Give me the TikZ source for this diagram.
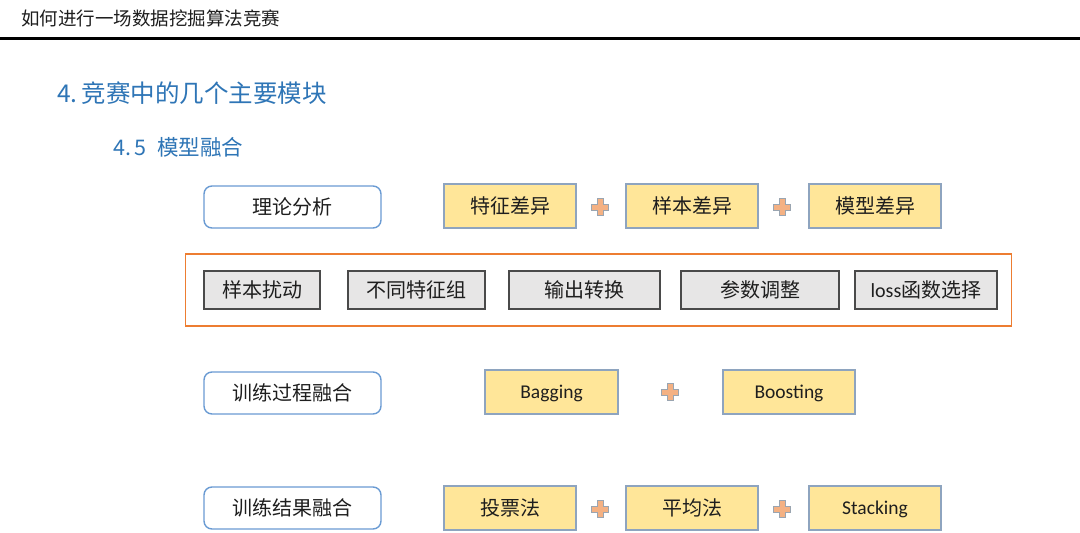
\documentclass[tikz,border=0pt]{standalone}
\usepackage{fontspec}
\setmainfont{Noto Sans CJK SC}
\newfontfamily\latf{Carlito}
\definecolor{titleblue}{HTML}{2E75B6}
\definecolor{rbox}{HTML}{6A9BD3}
\definecolor{yfill}{HTML}{FFE699}
\definecolor{yedge}{HTML}{8EA4BF}
\definecolor{gfill}{HTML}{E7E6E6}
\definecolor{gedge}{HTML}{4A4A4A}
\definecolor{oframe}{HTML}{ED7D31}
\definecolor{pfill}{HTML}{F4B183}
\definecolor{pedge}{HTML}{9AA5B1}
\definecolor{txt}{HTML}{1E1E1E}
\tikzset{
  x=1pt,y=-1pt,
  base/.style={inner sep=0pt, text=txt, font=\fontsize{20}{22}\selectfont},
  rbox/.style={base, draw=rbox, line width=1.4pt, fill=white, rounded corners=8pt, minimum width=177pt, minimum height=42pt},
  ybox/.style={base, draw=yedge, line width=1.4pt, fill=yfill, minimum width=132pt, minimum height=44pt},
  gbox/.style={base, draw=gedge, line width=1.2pt, fill=gfill, minimum height=38pt},
  latin/.style={font=\latf\fontsize{19.5}{21}\selectfont, text height=13pt, text depth=0.5pt},
  plussign/.pic={
    \path[fill=pfill, draw=pedge, line width=0.6pt]
      (-8.5,-2.8) -- (-2.8,-2.8) -- (-2.8,-8.5) -- (2.8,-8.5) -- (2.8,-2.8) -- (8.5,-2.8)
      -- (8.5,2.8) -- (2.8,2.8) -- (2.8,8.5) -- (-2.8,8.5) -- (-2.8,2.8) -- (-8.5,2.8) -- cycle;
  }
}
\begin{document}
\begin{tikzpicture}
\useasboundingbox[fill=white] (0,0) rectangle (1080,533);
% header
\node[anchor=west, inner sep=0pt, text=txt, font=\fontsize{18.5}{20}\selectfont] (hdr) at (21,18) {如何进行一场数据挖掘算法竞赛};
\draw[line width=3pt, black] (0,38) -- (1080,38);
\node[anchor=west, inner sep=0pt, text=titleblue, font=\fontsize{24.5}{26}\selectfont] (t1) at (57,93) {4.\,竞赛中的几个主要模块};
\node[anchor=west, inner sep=0pt, text=titleblue, font=\fontsize{21.5}{24}\selectfont] (t2) at (113,147) {4.\,5\enspace 模型融合};
% row 1
\node[rbox] (r1) at (292.5,207) {理论分析};
\node[ybox] (a1) at (510,206) {特征差异};
\node[ybox] (a2) at (692,206) {样本差异};
\node[ybox] (a3) at (875,206) {模型差异};
\pic at (600,207) {plussign};
\pic at (782,207) {plussign};
% row 2
\node[draw=oframe, line width=1.4pt, minimum width=826pt, minimum height=72pt, inner sep=0pt] (frame) at (598.5,290) {};
\node[gbox, minimum width=116pt] (g1) at (262,290) {样本扰动};
\node[gbox, minimum width=137pt] (g2) at (416.5,290) {不同特征组};
\node[gbox, minimum width=151pt] (g3) at (584.5,290) {输出转换};
\node[gbox, minimum width=158pt] (g4) at (760,290) {参数调整};
\node[gbox, minimum width=142pt] (g5) at (926,290) {{\latf\fontsize{20}{22}\selectfont loss}函数选择};
% row 3
\node[rbox] (r3) at (292.5,393) {训练过程融合};
\node[ybox, latin, minimum width=133pt] (b1) at (551.5,392) {Bagging};
\node[ybox, latin, minimum width=132pt] (b2) at (789,392) {Boosting};
\pic at (670,392) {plussign};
% row 4
\node[rbox] (r4) at (292.5,508) {训练结果融合};
\node[ybox] (c1) at (510,508) {投票法};
\node[ybox] (c2) at (692,508) {平均法};
\node[ybox, latin] (c3) at (875,508) {Stacking};
\pic at (600,509) {plussign};
\pic at (782,509) {plussign};
\end{tikzpicture}
\end{document}
